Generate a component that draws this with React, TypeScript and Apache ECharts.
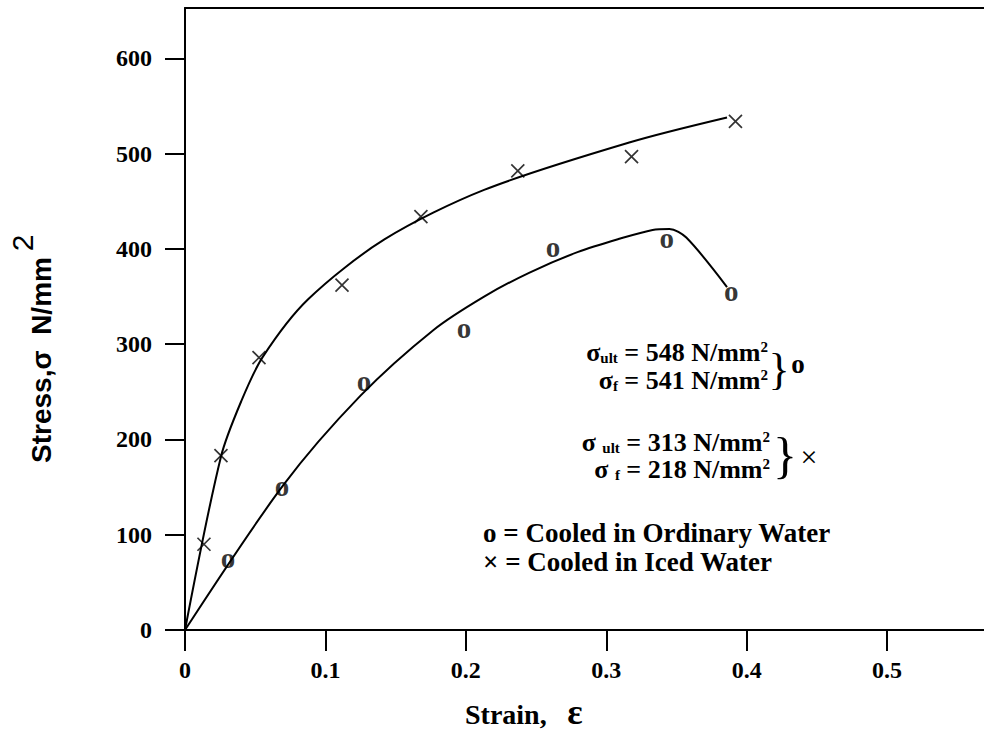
import React, { useEffect, useRef } from "react";
import * as echarts from "echarts";

// Axis ticks
const xTicks = [0, 0.1, 0.2, 0.3, 0.4, 0.5];
const yTicks = [0, 100, 200, 300, 400, 500, 600];

// Measured points (strain, stress N/mm^2)
const icedPoints = [
  [0.0135, 90], [0.0256, 183], [0.0527, 286], [0.1118, 362],
  [0.168, 434], [0.237, 482], [0.318, 497], [0.392, 534],
];
const ordinaryPoints = [
  [0.0306, 72], [0.069, 148], [0.1275, 258], [0.1987, 314],
  [0.262, 399], [0.343, 408], [0.389, 353],
];

// Fitted curves
const icedCurve = [
  [0, 0], [0.0256, 182], [0.04, 240], [0.0555, 287],
  [0.0875, 347], [0.142, 410], [0.213, 462],
  [0.317, 512], [0.386, 538],
];
const ordinaryCurve = [
  [0, 0], [0.07, 152], [0.125, 246], [0.177, 315],
  [0.213, 350], [0.245, 375], [0.28, 397], [0.31, 411],
  [0.333, 420], [0.345, 421], [0.357, 412], [0.386, 360],
];

const SERIF = "'Liberation Serif', 'Times New Roman', serif";
const SANS = "'Liberation Sans', Arial, sans-serif";

export default function App() {
  const ref = useRef<HTMLDivElement>(null);
  useEffect(() => {
    if (!ref.current) return;
    const chart = echarts.init(ref.current, null, { renderer: "svg" });
    const lineStyle = { color: "#000", width: 2 };
    const annStyle = (text: string, x: number, y: number) => ({
      type: "text",
      x,
      y,
      style: {
        text,
        align: "right",
        verticalAlign: "middle",
        fill: "#000",
        fontFamily: SERIF,
        fontWeight: "bold",
        fontSize: 26,
        rich: {
          m: { fontFamily: SERIF, fontWeight: "bold", fontSize: 26, fill: "#000", lineHeight: 26 },
          sub: { fontFamily: SERIF, fontWeight: "bold", fontSize: 15, fill: "#000", verticalAlign: "bottom", lineHeight: 26 },
          sup: { fontFamily: SERIF, fontWeight: "bold", fontSize: 15, fill: "#000", verticalAlign: "top", lineHeight: 26 },
        },
      },
    });
    const txt = (text: string, x: number, y: number, fontSize: number, weight: string, align = "center") => ({
      type: "text",
      x,
      y,
      style: {
        text,
        align,
        verticalAlign: "middle",
        fill: "#000",
        fontFamily: SERIF,
        fontWeight: weight,
        fontSize,
      },
    });
    chart.setOption({
      animation: false,
      backgroundColor: "#fff",
      grid: { left: 185, right: 0, top: 8, bottom: 102, containLabel: false },
      xAxis: [
        {
          type: "value",
          min: 0,
          max: 0.569,
          interval: 0.1,
          position: "bottom",
          axisLine: { show: true, onZero: false, lineStyle: { color: "#000", width: 2 } },
          axisTick: {
            show: true,
            length: 21,
            customValues: xTicks,
            lineStyle: { color: "#000", width: 2 },
          },
          axisLabel: {
            show: true,
            customValues: xTicks,
            margin: 28,
            color: "#000",
            fontFamily: SERIF,
            fontWeight: "bold",
            fontSize: 24,
            formatter: (v: number) => (v === 0 ? "0" : v.toFixed(1)),
          },
          splitLine: { show: false },
        },
        {
          type: "value",
          min: 0,
          max: 0.569,
          position: "top",
          axisLine: { show: true, onZero: false, lineStyle: { color: "#000", width: 2 } },
          axisTick: { show: false },
          axisLabel: { show: false },
          splitLine: { show: false },
        },
      ],
      yAxis: {
        type: "value",
        min: 0,
        max: 653,
        interval: 100,
        axisLine: { show: true, onZero: false, lineStyle: { color: "#000", width: 2 } },
        axisTick: {
          show: true,
          length: 20,
          customValues: yTicks,
          lineStyle: { color: "#000", width: 2 },
        },
        axisLabel: {
          show: true,
          customValues: yTicks,
          margin: 33,
          color: "#000",
          fontFamily: SERIF,
          fontWeight: "bold",
          fontSize: 24,
        },
        splitLine: { show: false },
      },
      series: [
        {
          type: "line",
          data: icedCurve,
          smooth: 0.3,
          showSymbol: false,
          lineStyle,
          silent: true,
        },
        {
          type: "line",
          data: ordinaryCurve,
          smooth: 0.3,
          showSymbol: false,
          lineStyle,
          silent: true,
        },
        {
          type: "scatter",
          data: icedPoints,
          symbol: "path://M0,0L10,10M10,0L0,10",
          symbolSize: 13,
          itemStyle: { color: "none", borderColor: "#000", borderWidth: 1.7 },
          silent: true,
          z: 5,
        },
        {
          type: "scatter",
          data: ordinaryPoints,
          symbol: "circle",
          symbolSize: 2,
          itemStyle: { color: "rgba(0,0,0,0)" },
          label: {
            show: true,
            position: "inside",
            formatter: "o",
            color: "#000",
            fontFamily: SERIF,
            fontWeight: "bold",
            fontSize: 29,
            offset: [0, -3],
          },
          silent: true,
          z: 5,
        },
      ],
      graphic: [
        {
          type: "text",
          x: 41,
          y: 360,
          rotation: Math.PI / 2,
          style: {
            text: "Stress,σ  N/mm",
            align: "center",
            verticalAlign: "middle",
            fill: "#000",
            fontFamily: SANS,
            fontWeight: "bold",
            fontSize: 28,
          },
        },
        {
          type: "text",
          x: 22,
          y: 243,
          rotation: Math.PI / 2,
          style: {
            text: "2",
            align: "center",
            verticalAlign: "middle",
            fill: "#000",
            fontFamily: SANS,
            fontWeight: "normal",
            fontSize: 30,
          },
        },
        txt("Strain,", 465, 714, 28, "bold", "left"),
        txt("ε", 575, 712, 36, "bold"),
        annStyle("{m|σ}{sub|ult}{m| = 548 N/mm}{sup|2}", 768, 352),
        annStyle("{m|σ}{sub|f}{m| = 541 N/mm}{sup|2}", 768, 380),
        annStyle("{m|σ }{sub|ult}{m| = 313 N/mm}{sup|2}", 770, 442),
        annStyle("{m|σ }{sub|f}{m| = 218 N/mm}{sup|2}", 770, 469),
        txt("}", 779, 369, 44, "normal"),
        txt("o", 798, 364, 27, "bold"),
        txt("}", 785, 455, 50, "normal"),
        txt("×", 809, 456, 30, "normal"),
        txt("o = Cooled in Ordinary Water", 483, 533, 27, "bold", "left"),
        txt("× = Cooled in Iced Water", 483, 562, 27, "bold", "left"),
      ],
    });
    return () => chart.dispose();
  }, []);
  return (
    <div
      ref={ref}
      style={{ position: "fixed", left: 0, top: 0, width: 984, height: 732, background: "#fff" }}
    />
  );
}
